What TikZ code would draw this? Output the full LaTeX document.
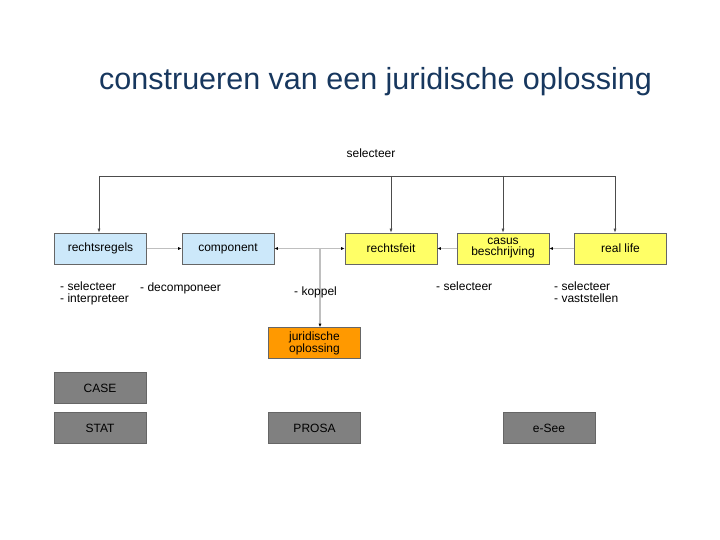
\documentclass[tikz,border=0pt]{standalone}
\usepackage{fontspec}
\setmainfont{Liberation Sans}
\usetikzlibrary{arrows.meta}
\definecolor{lblue}{HTML}{CCE8FA}
\definecolor{lyel}{HTML}{FFFF66}
\definecolor{orng}{HTML}{FF9900}
\definecolor{gbox}{HTML}{808080}
\definecolor{titc}{HTML}{17375E}
\begin{document}
\begin{tikzpicture}[x=1pt,y=-1pt,
  box/.style={draw=black!60,line width=0.6pt,minimum width=92pt,minimum height=31pt,font=\fontsize{12}{11}\selectfont,align=center,inner sep=1pt},
  blu/.style={box,fill=lblue},
  yel/.style={box,fill=lyel},
  gry/.style={box,fill=gbox},
  conn/.style={draw=black!25,line width=1.2pt},
  tip/.style={-{Latex[length=3.5pt,width=3pt,black]}},
  top/.style={draw=black!70,line width=0.6pt,-{Latex[length=4pt,width=3pt]}},
  lab/.style={font=\fontsize{12}{12}\selectfont,align=left,anchor=north west,inner sep=0pt}]
\useasboundingbox (0,0) rectangle (720,540);
\node[font=\fontsize{30.5}{32}\selectfont,text=titc,anchor=west,inner sep=0pt] (title) at (99,82) {construeren van een juridische oplossing};
\node[blu] (rr) at (100.5,248.5) {rechtsregels};
\node[blu] (cp) at (228,248.5) {component};
\node[yel] (rf) at (391,248.5) {rechtsfeit};
\node[yel] (cb) at (503,248.5) {casus\\beschrijving};
\node[yel] (rl) at (620.5,248.5) {real life};
\node[box,fill=orng] (jo) at (314.5,343) {juridische\\oplossing};
\node[gry] (case) at (100,388) {CASE};
\node[gry] (stat) at (100,428) {STAT};
\node[gry] (prosa) at (314.5,428) {PROSA};
\node[gry] (esee) at (549,428) {e-See};
\coordinate (j) at (320,248.5);
\draw[conn,tip] (rr) -- (cp);
\draw[conn,tip] (j) -- (cp.east);
\draw[conn,tip] (j) -- (rf.west);
\draw[conn,tip] (j) -- (jo.north -| j);
\draw[conn,tip] (cb) -- (rf);
\draw[conn,tip] (rl) -- (cb);
\node[font=\fontsize{12}{12}\selectfont] (sel) at (371,153) {selecteer};
\coordinate (tl) at (99,176);
\coordinate (tr) at (615,176);
\draw[top] (tl) -- (tr) -- (rl.north -| tr);
\draw[top] (tl) -- (rr.north -| tl);
\draw[top] (rf.north |- tl) -- (rf.north);
\draw[top] (cb.north |- tl) -- (cb.north);
\node[lab] (l1) at (60,282) {- selecteer\\- interpreteer};
\node[lab] (l2) at (140,283) {- decomponeer};
\node[lab] (l3) at (294,287) {- koppel};
\node[lab] (l4) at (436,282) {- selecteer};
\node[lab] (l5) at (554,282) {- selecteer\\- vaststellen};
\end{tikzpicture}
\end{document}
